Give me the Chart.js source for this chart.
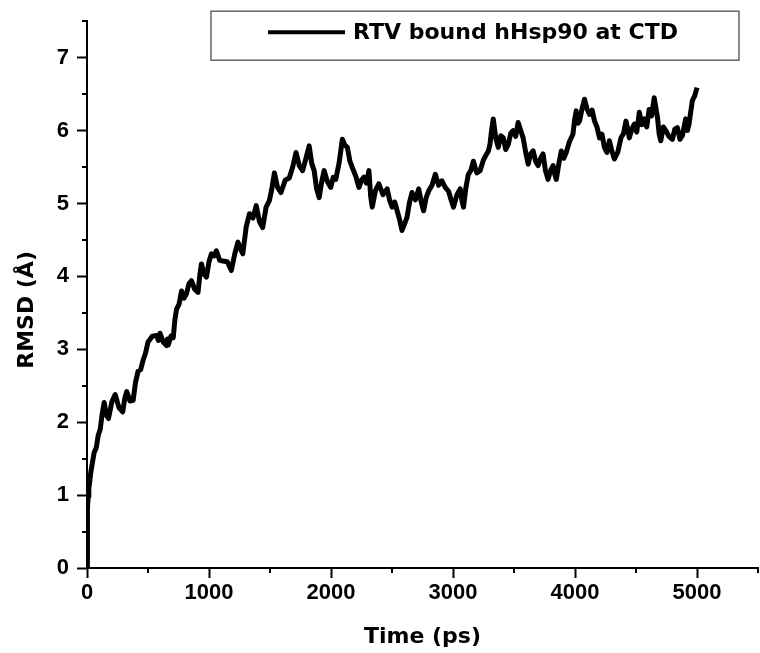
<!DOCTYPE html>
<html>
<head>
<meta charset="utf-8">
<script src="https://cdn.jsdelivr.net/npm/chart.js@4"></script>
<style>
  body { margin: 0; background: #fff; }
</style>
</head>
<body>
<canvas id="chart" width="760" height="653"></canvas>
<script>
// RMSD trace (time in ps, RMSD in angstrom)
const timePs = [
  0, 2, 5, 10, 15, 20, 30, 40, 58, 76, 92, 108, 125, 141, 158, 176, 204, 231, 262, 293,
  310, 326, 352, 378, 398, 419, 440, 460, 480, 500, 535, 571, 585, 598, 625, 652, 660, 666, 688, 707,
  720, 734, 755, 775, 795, 815, 836, 856, 884, 910, 925, 938, 960, 979, 1000, 1020, 1040, 1060, 1088, 1114,
  1150, 1183, 1210, 1237, 1257, 1277, 1305, 1332, 1360, 1387, 1414, 1440, 1468, 1495, 1515, 1536, 1562, 1590, 1625, 1658,
  1686, 1713, 1740, 1767, 1795, 1821, 1842, 1862, 1882, 1903, 1924, 1944, 1970, 1998, 2018, 2039, 2066, 2093, 2114, 2134,
  2155, 2175, 2202, 2229, 2250, 2270, 2290, 2311, 2325, 2338, 2365, 2392, 2426, 2460, 2480, 2501, 2522, 2542, 2562, 2582,
  2603, 2623, 2644, 2664, 2692, 2719, 2740, 2759, 2780, 2800, 2828, 2855, 2882, 2909, 2936, 2963, 2984, 3004, 3032, 3059,
  3072, 3086, 3106, 3126, 3146, 3167, 3195, 3222, 3250, 3276, 3290, 3303, 3316, 3330, 3350, 3371, 3392, 3412, 3432, 3453,
  3473, 3493, 3514, 3534, 3555, 3575, 3596, 3616, 3636, 3657, 3677, 3697, 3718, 3738, 3758, 3779, 3800, 3820, 3834, 3847,
  3868, 3888, 3908, 3928, 3955, 3983, 3997, 4010, 4024, 4037, 4058, 4078, 4098, 4119, 4140, 4160, 4180, 4201, 4221, 4241,
  4262, 4282, 4302, 4323, 4350, 4377, 4398, 4418, 4432, 4445, 4466, 4486, 4506, 4527, 4548, 4568, 4588, 4608, 4628, 4649,
  4662, 4676, 4690, 4703, 4724, 4744, 4770, 4798, 4818, 4839, 4860, 4880, 4894, 4907, 4921, 4935, 4948, 4962, 4982, 5000
];
const rmsd = [
  0.00, 0.40, 0.82, 0.98, 1.10, 1.15, 1.30, 1.40, 1.58, 1.65, 1.82, 1.90, 2.12, 2.27, 2.10, 2.05, 2.28, 2.38, 2.20, 2.14,
  2.33, 2.42, 2.29, 2.30, 2.55, 2.70, 2.72, 2.85, 2.95, 3.10, 3.18, 3.19, 3.12, 3.22, 3.10, 3.05, 3.14, 3.06, 3.18, 3.16,
  3.40, 3.55, 3.62, 3.80, 3.70, 3.76, 3.90, 3.94, 3.82, 3.78, 4.02, 4.17, 4.03, 3.99, 4.20, 4.31, 4.28, 4.35, 4.22, 4.21,
  4.20, 4.08, 4.30, 4.47, 4.38, 4.31, 4.68, 4.86, 4.80, 4.97, 4.75, 4.67, 4.95, 5.04, 5.20, 5.42, 5.22, 5.15, 5.32, 5.35,
  5.50, 5.70, 5.52, 5.45, 5.62, 5.79, 5.55, 5.45, 5.20, 5.08, 5.30, 5.45, 5.30, 5.22, 5.36, 5.33, 5.55, 5.88, 5.80, 5.77,
  5.58, 5.49, 5.38, 5.22, 5.32, 5.36, 5.28, 5.45, 5.10, 4.95, 5.18, 5.27, 5.12, 5.20, 5.05, 4.95, 5.02, 4.90, 4.78, 4.63,
  4.72, 4.81, 5.02, 5.15, 5.05, 5.20, 5.02, 4.90, 5.08, 5.17, 5.25, 5.40, 5.25, 5.31, 5.22, 5.17, 5.05, 4.95, 5.12, 5.20,
  5.05, 4.95, 5.22, 5.40, 5.45, 5.58, 5.42, 5.45, 5.60, 5.68, 5.72, 5.81, 6.00, 6.16, 5.90, 5.77, 5.93, 5.90, 5.74, 5.81,
  5.96, 6.00, 5.92, 6.11, 6.00, 5.90, 5.70, 5.54, 5.68, 5.72, 5.58, 5.52, 5.62, 5.68, 5.45, 5.33, 5.45, 5.52, 5.40, 5.33,
  5.55, 5.72, 5.62, 5.70, 5.85, 5.95, 6.15, 6.27, 6.10, 6.13, 6.30, 6.43, 6.30, 6.22, 6.28, 6.13, 6.05, 5.90, 5.95, 5.77,
  5.70, 5.86, 5.72, 5.61, 5.70, 5.90, 5.96, 6.13, 6.02, 5.90, 6.02, 6.09, 5.98, 6.25, 6.08, 6.16, 6.05, 6.29, 6.20, 6.45,
  6.32, 6.18, 5.95, 5.86, 6.05, 6.00, 5.92, 5.88, 6.02, 6.04, 5.88, 5.93, 6.05, 6.16, 6.00, 6.09, 6.25, 6.41, 6.48, 6.59
];

const seriesLabel = "RTV bound hHsp90 at CTD";
const xTitle = "Time (ps)";
const yTitle = "RMSD (Å)";

const points = timePs.map((t, i) => ({ x: t, y: rmsd[i] }));

const tickFont = { family: "'Liberation Sans', Arial, sans-serif", size: 22, weight: "bold" };
const titleFont = { family: "'DejaVu Sans', sans-serif", size: 22, weight: "bold" };

// short minor ticks (Chart.js only has one tick length)
const minorTicks = {
  id: "minorTicks",
  afterDraw(chart) {
    const ctx = chart.ctx;
    const area = chart.chartArea;
    const xs = chart.scales.x;
    const ys = chart.scales.y;
    ctx.save();
    ctx.strokeStyle = "#000";
    ctx.lineWidth = 2;
    ctx.beginPath();
    xs.ticks.forEach(t => {
      if (t.value % 1000 !== 0) {
        const px = Math.round(xs.getPixelForValue(t.value));
        ctx.moveTo(px, area.bottom);
        ctx.lineTo(px, area.bottom + 5);
      }
    });
    ys.ticks.forEach(t => {
      if (!Number.isInteger(t.value)) {
        const py = Math.round(ys.getPixelForValue(t.value));
        ctx.moveTo(area.left - 5, py);
        ctx.lineTo(area.left, py);
      }
    });
    ctx.stroke();
    ctx.restore();
  }
};

// boxed legend inside the plot, like the original figure
const boxedLegend = {
  id: "boxedLegend",
  afterDraw(chart) {
    const ctx = chart.ctx;
    const area = chart.chartArea;
    const ds = chart.data.datasets[0];
    ctx.save();
    ctx.font = "bold 22px 'DejaVu Sans', sans-serif";
    const textW = ctx.measureText(ds.label).width;
    const boxL = area.left + 124, boxR = area.right - 19;
    const boxT = area.top - 10, boxB = area.top + 39;
    ctx.fillStyle = "#fff";
    ctx.fillRect(boxL, boxT, boxR - boxL, boxB - boxT);
    ctx.strokeStyle = "#666";
    ctx.lineWidth = 1.5;
    ctx.strokeRect(boxL, boxT, boxR - boxL, boxB - boxT);
    const sample = 77, gap = 8;
    const cx = (boxL + boxR) / 2 - 2;
    const start = cx - (sample + gap + textW) / 2;
    const midY = area.top + 11;
    ctx.strokeStyle = ds.borderColor;
    ctx.lineWidth = 4;
    ctx.beginPath();
    ctx.moveTo(start, midY);
    ctx.lineTo(start + sample, midY);
    ctx.stroke();
    ctx.fillStyle = "#000";
    ctx.textBaseline = "middle";
    ctx.fillText(ds.label, start + sample + gap, midY + 1);
    ctx.restore();
  }
};

const config = {
  type: "line",
  data: {
    datasets: [
      {
        label: seriesLabel,
        data: points,
        borderColor: "#000",
        backgroundColor: "#000",
        borderWidth: 5,
        borderJoinStyle: "round",
        pointRadius: 0,
        tension: 0
      }
    ]
  },
  options: {
    responsive: false,
    animation: false,
    layout: { padding: { top: 20, right: 0, left: 0, bottom: 0 } },
    plugins: {
      legend: { display: false },
      tooltip: { enabled: false }
    },
    scales: {
      x: {
        type: "linear",
        min: 0,
        max: 5500,
        afterFit: s => { s.height = 85; },
        border: { color: "#000", width: 2 },
        grid: {
          drawOnChartArea: false,
          tickLength: 10,
          tickWidth: 2,
          tickColor: c => (c.tick && c.tick.value % 1000 === 0 ? "#000" : "rgba(0,0,0,0)")
        },
        ticks: {
          stepSize: 500,
          padding: 2,
          color: "#000",
          font: tickFont,
          maxRotation: 0,
          autoSkip: false,
          callback: v => (v % 1000 === 0 ? String(v) : "")
        },
        title: { display: true, text: xTitle, color: "#000", font: titleFont, padding: { top: 0, bottom: 3 } }
      },
      y: {
        min: 0,
        max: 7.5,
        afterFit: s => { s.width = 87; },
        border: { color: "#000", width: 2 },
        grid: {
          drawOnChartArea: false,
          tickLength: 10,
          tickWidth: 2,
          tickColor: c => (c.tick && Number.isInteger(c.tick.value) ? "#000" : "rgba(0,0,0,0)")
        },
        ticks: {
          stepSize: 0.5,
          padding: 8,
          color: "#000",
          font: tickFont,
          autoSkip: false,
          callback: v => (Number.isInteger(v) ? String(v) : "")
        },
        title: { display: true, text: yTitle + "    ", color: "#000", font: titleFont, padding: { top: 14, bottom: 0 } }
      }
    }
  },
  plugins: [minorTicks, boxedLegend]
};

const myChart = new Chart(document.getElementById("chart"), config);
</script>
</body>
</html>
